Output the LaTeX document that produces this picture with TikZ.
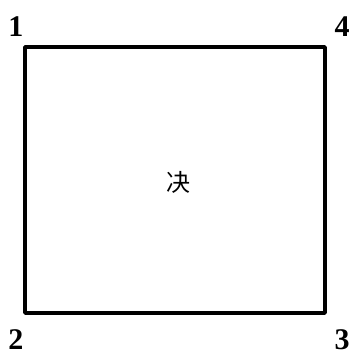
\documentclass[tikz,border=0pt]{standalone}
\usepackage{fontspec}
\setmainfont{Liberation Serif}
\newfontfamily\cjk{Noto Sans CJK SC}
\usepackage{tikz}
\usetikzlibrary{positioning}

\begin{document}
\begin{tikzpicture}[
  x=1pt, y=-1pt,
  num/.style={font=\bfseries\fontsize{30}{30}\selectfont, inner sep=0pt},
  edge/.style={draw, line width=3.5pt, line join=round}
]
\useasboundingbox (0,0) rectangle (353,356);
% corners of the box
\coordinate (c1) at (25,47);
\coordinate (c4) at (325,47);
\coordinate (c3) at (325,313);
\coordinate (c2) at (25,313);
\draw[edge] (c1) -- (c4) -- (c3) -- (c2) -- cycle;
% corner numbers
\node[num] (n1) at (16,27) {1};
\node[num] (n4) at (342,27) {4};
\node[num] (n2) at (16,340) {2};
\node[num] (n3) at (342,340) {3};
% centre mark
\node[font=\cjk\fontsize{24}{24}\selectfont, inner sep=0pt] (mid) at (178,182) {决};
\end{tikzpicture}
\end{document}
